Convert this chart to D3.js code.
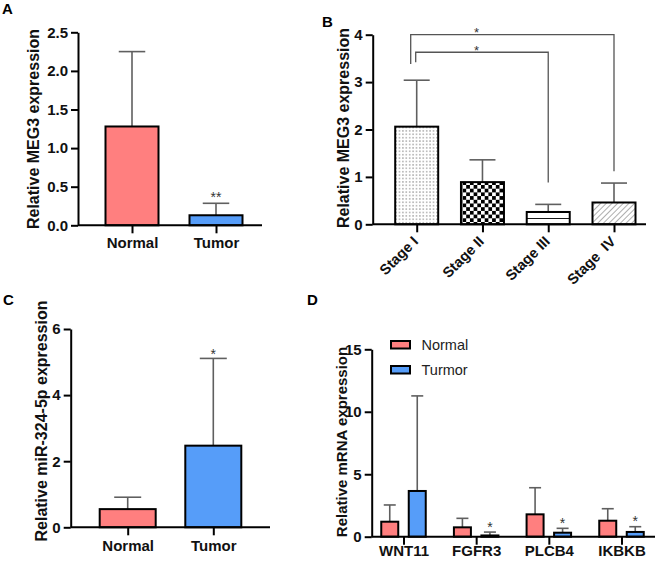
<!DOCTYPE html>
<html>
<head>
<meta charset="utf-8">
<script src="https://cdn.jsdelivr.net/npm/d3@7"></script>
<style>
  html, body { margin: 0; padding: 0; background: #fff; }
  svg { display: block; font-family: "Liberation Sans", Arial, Helvetica, sans-serif; }
</style>
</head>
<body>
<svg id="chart" width="655" height="561"></svg>
<script>
// ---------------- DATA ----------------
// Panel A
const catsA = ["Normal", "Tumor"];
const meanA = [1.28, 0.13];
const sdA = [0.97, 0.155];
const sigA = ["", "**"];
const ticksA = [0, 0.5, 1.0, 1.5, 2.0, 2.5];

// Panel B
const catsB = ["Stage I", "Stage II", "Stage III", "Stage  IV"];
const meanB = [2.06, 0.89, 0.26, 0.46];
const sdB = [0.98, 0.47, 0.16, 0.41];
const ticksB = [0, 1, 2, 3, 4];
const bracketFrom = ["Stage I", "Stage I"];
const bracketTo = ["Stage  IV", "Stage III"];
const bracketTop = [4.0, 3.63];
const bracketLeftEnd = [3.38, 3.42];
const bracketRightEnd = [1.12, 0.88];
const bracketLabel = ["*", "*"];

// Panel C
const catsC = ["Normal", "Tumor"];
const meanC = [0.55, 2.47];
const sdC = [0.36, 2.64];
const sigC = ["", "*"];
const ticksC = [0, 2, 4, 6];

// Panel D
const genesD = ["WNT11", "FGFR3", "PLCB4", "IKBKB"];
const seriesD = ["Normal", "Turmor"];
const normalD = [1.2, 0.75, 1.79, 1.28];
const normalSdD = [1.34, 0.72, 2.13, 0.96];
const tumorD = [3.66, 0.1, 0.32, 0.38];
const tumorSdD = [7.61, 0.27, 0.35, 0.42];
const sigTumorD = ["", "*", "*", "*"];
const ticksD = [0, 5, 10, 15];

// ---------------- STYLE ----------------
const RED = "#FF7F7F";
const BLUE = "#569DF9";
const ERR = "#5f5f5f";
const TXT = "#111";
const FONT = '"Liberation Sans", Arial, sans-serif';

const svg = d3.select("#chart");
const defs = svg.append("defs");

// patterns for panel B
const pDots = defs.append("pattern").attr("id", "pDots").attr("patternUnits", "userSpaceOnUse")
  .attr("width", 3.4).attr("height", 3.4);
pDots.append("rect").attr("width", 3.4).attr("height", 3.4).attr("fill", "#fff");
pDots.append("rect").attr("x", 1.2).attr("y", 1.0).attr("width", 1.0).attr("height", 1.4).attr("fill", "#777");

const pChk = defs.append("pattern").attr("id", "pChk").attr("patternUnits", "userSpaceOnUse")
  .attr("width", 7.4).attr("height", 7.4);
pChk.append("rect").attr("width", 7.4).attr("height", 7.4).attr("fill", "#fff");
pChk.append("rect").attr("width", 3.7).attr("height", 3.7).attr("fill", "#000");
pChk.append("rect").attr("x", 3.7).attr("y", 3.7).attr("width", 3.7).attr("height", 3.7).attr("fill", "#000");

const pHor = defs.append("pattern").attr("id", "pHor").attr("patternUnits", "objectBoundingBox")
  .attr("width", 1).attr("height", 0.5);
pHor.append("rect").attr("width", 200).attr("height", 200).attr("fill", "#fff");
pHor.append("line").attr("x1", 0).attr("x2", 200).attr("y1", 0).attr("y2", 0)
  .attr("stroke", "#000").attr("stroke-width", 1.6);

const pDiag = defs.append("pattern").attr("id", "pDiag").attr("patternUnits", "userSpaceOnUse")
  .attr("width", 4).attr("height", 4).attr("patternTransform", "rotate(45)");
pDiag.append("rect").attr("width", 4).attr("height", 4).attr("fill", "#fff");
pDiag.append("line").attr("x1", 0).attr("x2", 0).attr("y1", 0).attr("y2", 4)
  .attr("stroke", "#777").attr("stroke-width", 1.2);

const fillsB = ["url(#pDots)", "url(#pChk)", "url(#pHor)", "url(#pDiag)"];

// ---------------- HELPERS ----------------
function yAxis(g, x, y, ticks, fmt) {
  const ax = d3.axisLeft(y).tickValues(ticks).tickSize(7).tickSizeOuter(0).tickPadding(3)
    .tickFormat(fmt);
  const a = g.append("g").attr("transform", `translate(${x},0)`).call(ax);
  a.select(".domain").attr("stroke", "#000").attr("stroke-width", 2);
  a.selectAll(".tick line").attr("stroke", "#000").attr("stroke-width", 2);
  a.selectAll(".tick text").attr("fill", TXT).style("font-size", "15px").style("font-weight", "bold")
    .style("font-family", FONT);
  return a;
}
function xBase(g, x0, x1, y0) {
  g.append("line").attr("x1", x0).attr("x2", x1).attr("y1", y0).attr("y2", y0)
    .attr("stroke", "#000").attr("stroke-width", 2);
}
function xAxis(g, x, y0, tickLen, labelSize, pad) {
  const ax = d3.axisBottom(x).tickSize(tickLen).tickSizeOuter(0).tickPadding(pad);
  const a = g.append("g").attr("transform", `translate(0,${y0})`).call(ax);
  a.select(".domain").remove();
  a.selectAll(".tick line").attr("stroke", "#000").attr("stroke-width", 2);
  a.selectAll(".tick text").attr("fill", TXT).style("font-size", labelSize).style("font-weight", "bold")
    .style("font-family", FONT).style("white-space", "pre");
  return a;
}
function yTitle(g, text, cx, cy, size) {
  g.append("text").attr("transform", `translate(${cx},${cy}) rotate(-90)`)
    .attr("text-anchor", "middle").attr("dominant-baseline", "central")
    .attr("fill", TXT).style("font-size", size).style("font-weight", "bold").text(text);
}
function letter(t, x, y) {
  svg.append("text").attr("x", x).attr("y", y).attr("fill", "#000")
    .style("font-size", "15px").style("font-weight", "bold").text(t);
}
function errBar(g, cx, yTopPx, yBarPx, cap) {
  g.append("line").attr("x1", cx).attr("x2", cx).attr("y1", yBarPx).attr("y2", yTopPx)
    .attr("stroke", ERR).attr("stroke-width", 1.6);
  g.append("line").attr("x1", cx - cap / 2).attr("x2", cx + cap / 2).attr("y1", yTopPx).attr("y2", yTopPx)
    .attr("stroke", ERR).attr("stroke-width", 1.6);
}
function star(g, cx, yTopPx, s) {
  if (!s) return;
  g.append("text").attr("x", cx).attr("y", yTopPx + 0.5).attr("text-anchor", "middle")
    .attr("fill", "#333").style("font-size", "14px").text(s);
}

// ---------------- PANEL A ----------------
{
  const g = svg.append("g");
  const y = d3.scaleLinear().domain([0, 2.5]).range([225.3, 32.3]);
  const x = d3.scalePoint().domain(catsA).range([132, 216]);
  const bw = 53;
  catsA.forEach((c, i) => {
    errBar(g, x(c), y(meanA[i] + sdA[i]), y(meanA[i]), bw * 0.5);
    g.append("rect").attr("x", x(c) - bw / 2).attr("y", y(meanA[i]))
      .attr("width", bw).attr("height", y(0) - y(meanA[i]))
      .attr("fill", i === 0 ? RED : BLUE).attr("stroke", "#000").attr("stroke-width", 2);
    star(g, x(c), y(meanA[i] + sdA[i]) - 1.5, sigA[i]);
  });
  xBase(g, 78, 262, y(0));
  yAxis(g, 78, y, ticksA, d3.format(".1f"));
  xAxis(g, x, y(0), 8, "15px", 4);
  yTitle(g, "Relative MEG3 expression", 33, 129, "16px");
  letter("A", 2, 14);
}

// ---------------- PANEL B ----------------
{
  const g = svg.append("g");
  const y = d3.scaleLinear().domain([0, 4]).range([224.3, 34.7]);
  const x = d3.scalePoint().domain(catsB).range([416.7, 614]);
  const bw = 43;
  catsB.forEach((c, i) => {
    errBar(g, x(c), y(meanB[i] + sdB[i]), y(meanB[i]), 26);
    g.append("rect").attr("x", x(c) - bw / 2).attr("y", y(meanB[i]))
      .attr("width", bw).attr("height", y(0) - y(meanB[i]))
      .attr("fill", fillsB[i]).attr("stroke", "#000").attr("stroke-width", 2);
  });
  // significance brackets
  const leftOff = [-6, -1];
  bracketFrom.forEach((f, i) => {
    const xl = x(f) + leftOff[i], xr = x(bracketTo[i]);
    const path = d3.path();
    path.moveTo(xl, y(bracketLeftEnd[i]));
    path.lineTo(xl, y(bracketTop[i]));
    path.lineTo(xr, y(bracketTop[i]));
    path.lineTo(xr, y(bracketRightEnd[i]));
    g.append("path").attr("d", path.toString()).attr("fill", "none")
      .attr("stroke", "#555").attr("stroke-width", 1.3);
    const sx = (x(catsB[0]) + x(catsB[2])) / 2 - 6;
    g.append("text").attr("x", sx).attr("y", y(bracketTop[i]) + 2.5).attr("text-anchor", "middle")
      .attr("fill", "#333").style("font-size", "13px").text(bracketLabel[i]);
  });
  xBase(g, 372.7, 646, y(0));
  yAxis(g, 372.7, y, ticksB, d3.format("d"));
  const a = xAxis(g, x, y(0), 8, "14.5px", 5);
  a.selectAll(".tick text").attr("text-anchor", "end").attr("dy", null).attr("y", null)
    .attr("transform", "translate(2,18) rotate(-45)");
  yTitle(g, "Relative MEG3 expression", 343, 128, "16px");
  letter("B", 322, 27);
}

// ---------------- PANEL C ----------------
{
  const g = svg.append("g");
  const y = d3.scaleLinear().domain([0, 6]).range([527.3, 329]);
  const x = d3.scalePoint().domain(catsC).range([127.7, 213.3]);
  const bw = 56;
  catsC.forEach((c, i) => {
    errBar(g, x(c), y(meanC[i] + sdC[i]), y(meanC[i]), 27);
    g.append("rect").attr("x", x(c) - bw / 2).attr("y", y(meanC[i]))
      .attr("width", bw).attr("height", y(0) - y(meanC[i]))
      .attr("fill", i === 0 ? RED : BLUE).attr("stroke", "#000").attr("stroke-width", 2);
    star(g, x(c), y(meanC[i] + sdC[i]), sigC[i]);
  });
  xBase(g, 70.7, 270, y(0));
  yAxis(g, 70.7, y, ticksC, d3.format("d"));
  xAxis(g, x, y(0), 8, "15px", 5);
  yTitle(g, "Relative miR-324-5p expression", 41, 421, "16px");
  letter("C", 3, 305);
}

// ---------------- PANEL D ----------------
{
  const g = svg.append("g");
  const y = d3.scaleLinear().domain([0, 15]).range([536.7, 349.3]);
  const x = d3.scalePoint().domain(genesD).range([403.5, 621.5]);
  const xi = d3.scaleBand().domain(seriesD).range([-22.25, 22.25]).paddingInner(0.382);
  const bw = xi.bandwidth();
  const vals = [normalD, tumorD], sds = [normalSdD, tumorSdD], cols = [RED, BLUE];
  genesD.forEach((gn, j) => {
    seriesD.forEach((s, k) => {
      const cx = x(gn) + xi(s) + bw / 2;
      const v = vals[k][j], e = sds[k][j];
      errBar(g, cx, y(v + e), y(v), 12);
      g.append("rect").attr("x", cx - bw / 2).attr("y", y(v))
        .attr("width", bw).attr("height", y(0) - y(v))
        .attr("fill", cols[k]).attr("stroke", "#000").attr("stroke-width", 2);
      if (k === 1) star(g, cx, y(v + e) - 1, sigTumorD[j]);
    });
  });
  xBase(g, 371.7, 655, y(0));
  yAxis(g, 371.7, y, ticksD, d3.format("d"));
  xAxis(g, x, y(0), 8, "15px", 1);
  yTitle(g, "Relative mRNA expression", 341.5, 442, "15px");
  letter("D", 307, 305);

  // legend
  const lg = g.append("g");
  seriesD.forEach((s, k) => {
    const ly = 341 + k * 25;
    lg.append("rect").attr("x", 391).attr("y", ly).attr("width", 19).attr("height", 7.5)
      .attr("fill", cols[k]).attr("stroke", "#000").attr("stroke-width", 2);
    lg.append("text").attr("x", 421.5).attr("y", ly + 4).attr("dominant-baseline", "central")
      .attr("fill", "#222").style("font-size", "14.5px").text(s);
  });
}
</script>
</body>
</html>
